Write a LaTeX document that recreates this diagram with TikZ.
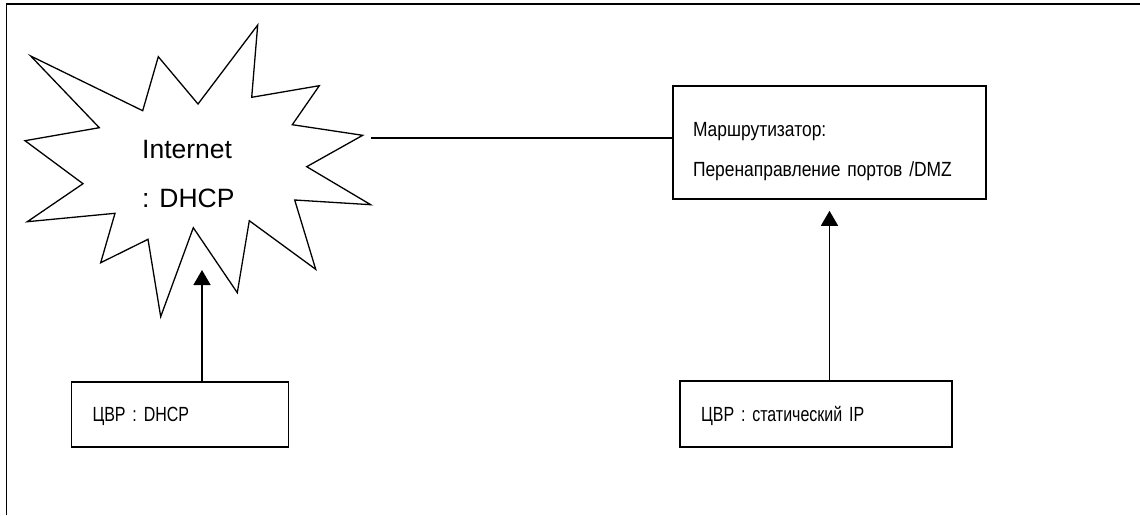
\documentclass[tikz,border=0pt]{standalone}
\usepackage{fontspec}
\setmainfont{Liberation Sans}
\newfontfamily\narrowfont[FakeStretch=0.85]{Liberation Sans}
\newfontfamily\narrowerfont[FakeStretch=0.78]{Liberation Sans}
\usetikzlibrary{positioning,arrows.meta,calc}
\newcommand{\dropline}[1]{\raisebox{-9pt}[\height][\depth]{#1}}
\newcommand{\devfont}{\narrowfont\fontsize{20.5}{40}\selectfont\spaceskip=4pt\relax}
\newcommand{\cpefont}{\narrowerfont\fontsize{20.5}{40}\selectfont\spaceskip=3pt\relax}
\tikzset{
  frame/.style={line width=1.6pt},
  burst/.style={line width=1.3pt,line join=miter},
  dev/.style={rectangle,draw,line width=1.6pt,align=left,inner ysep=0pt,font=\devfont},
  cpe/.style={dev,font=\cpefont},
  link/.style={line width=1.5pt},
  arr/.style={-{Triangle[length=15pt,width=17pt]},line width=1.6pt},
}

\begin{document}
\begin{tikzpicture}[x=1pt,y=-1pt]
  \useasboundingbox (0,0) rectangle (1140,515);
  \draw[frame] (6.5,515) -- (6.5,4) -- (1140,4);

  % internet burst
  \draw[burst] (257.7,25) -- (251.7,97.3) -- (319.3,85.7) -- (292.3,124.7)
    -- (362.7,135.3) -- (306.7,166.7) -- (370.7,204.7) -- (294.7,200)
    -- (315.7,269.3) -- (249.3,220.7) -- (237.3,292.7) -- (193.3,227.7)
    -- (160.7,316.7) -- (148,239.3) -- (100.7,262.7) -- (115,213.3)
    -- (27.3,221.7) -- (83,183.7) -- (25,140.7) -- (99.3,127.7)
    -- (30.7,56) -- (142.7,110.7) -- (158.3,56.7) -- (198,104) -- cycle;
  \node[align=left,inner sep=0pt,font=\fontsize{26.5}{49}\selectfont,anchor=north west]
    (net) at (142,140) {Internet\\: DHCP};
  \coordinate (net-e) at (371,138);
  \coordinate (net-s) at (202,270);

  \node[dev,text width=273pt,inner xsep=20pt,minimum height=113pt] (router) at (829.5,142.5)
    {\dropline{Маршрутизатор:}\\\dropline{Перенаправление портов /DMZ}};
  \node[cpe,text width=175pt,inner xsep=21pt,minimum height=65pt] (cpe1) at (180,414.5)
    {\raisebox{-2pt}[\height][\depth]{ЦВР : DHCP}};
  \node[cpe,text width=230pt,inner xsep=21pt,minimum height=66pt] (cpe2) at (816,414)
    {\raisebox{-2pt}[\height][\depth]{ЦВР : статический IP}};

  \draw[link] (net-e) -- (net-e -| router.west);
  \draw[arr] (cpe1.north -| net-s) -- (net-s);
  \draw[arr,shorten >=11pt] (cpe2.north -| router.south) -- (router.south);
\end{tikzpicture}
\end{document}
